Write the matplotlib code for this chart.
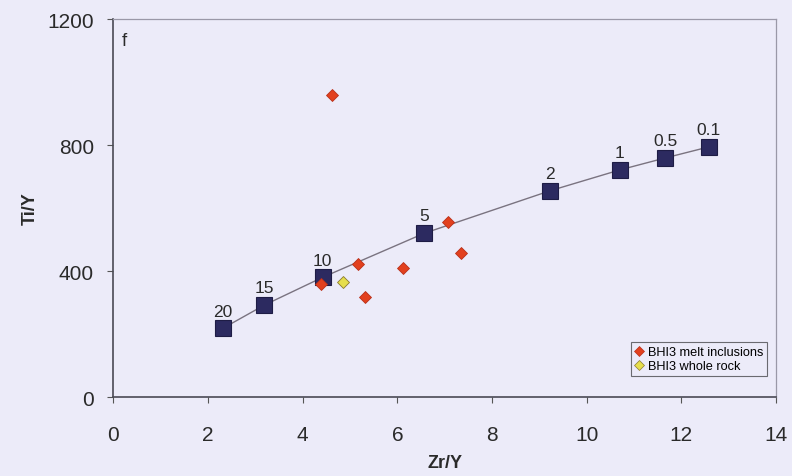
import matplotlib
matplotlib.use("Agg")
import matplotlib.pyplot as plt
from matplotlib.lines import Line2D

plt.rcParams['font.family'] = ['Liberation Sans', 'DejaVu Sans']

# Model melting curve (Zr/Y vs Ti/Y) with degree-of-melting labels
model_zr_y = [2.31, 3.19, 4.42, 6.57, 9.23, 10.70, 11.66, 12.58]
model_ti_y = [218, 292, 380, 520, 655, 721, 759, 794]
model_labels = ["20", "15", "10", "5", "2", "1", "0.5", "0.1"]

# BHI3 melt inclusions
mi_zr_y = [4.62, 5.16, 4.39, 5.32, 6.11, 7.07, 7.35]
mi_ti_y = [959, 422, 359, 316, 408, 557, 456]

# BHI3 whole rock
wr_zr_y = [4.86]
wr_ti_y = [366]

bg = '#ecebf9'
fig = plt.figure(figsize=(7.92, 4.77), dpi=100, facecolor=bg)
ax = fig.add_axes([0.1433, 0.1656, 0.8365, 0.7924], facecolor=bg)

ax.plot(model_zr_y, model_ti_y, color='#7a7380', lw=1.0, zorder=2)
ax.plot(model_zr_y, model_ti_y, ls='none', marker='s', ms=11.5,
        mfc='#2c2a60', mec='#1e1c45', mew=0.8, zorder=3)
for x, y, t in zip(model_zr_y, model_ti_y, model_labels):
    ax.annotate(t, (x, y), xytext=(0, 7), textcoords='offset points',
                ha='center', va='bottom', fontsize=12.5, color='#2a2a2a')

ax.plot(mi_zr_y, mi_ti_y, ls='none', marker='D', ms=6.6,
        mfc='#e2401e', mec='#b8301a', mew=0.6, zorder=4)
ax.plot(wr_zr_y, wr_ti_y, ls='none', marker='D', ms=6.6,
        mfc='#e6de4c', mec='#8a7a30', mew=0.6, zorder=4)

ax.set_xlim(0, 14)
ax.set_ylim(0, 1200)
ax.set_xticks([0, 2, 4, 6, 8, 10, 12, 14])
ax.set_yticks([0, 400, 800, 1200])
ax.tick_params(axis='both', labelsize=15, colors='#555555', labelcolor='#2a2a2a',
               length=4, width=0.8, direction='out')
ax.tick_params(axis='x', pad=16)
ax.tick_params(axis='y', pad=10)

for side in ('left', 'bottom'):
    ax.spines[side].set_color('#4a4a55')
    ax.spines[side].set_linewidth(1.2)
for side in ('top', 'right'):
    ax.spines[side].set_color('#9a98a8')
    ax.spines[side].set_linewidth(0.9)

ax.set_xlabel('Zr/Y', fontsize=13, fontweight='bold', color='#2a2a2a', labelpad=7)
ax.set_ylabel('Ti/Y', fontsize=13, fontweight='bold', color='#2a2a2a', labelpad=6)

ax.text(0.012, 0.965, 'f', transform=ax.transAxes, fontsize=13.5, color='#2a2a2a',
        ha='left', va='top')

handles = [
    Line2D([], [], ls='none', marker='D', ms=5, mfc='#e2401e', mec='#b8301a',
           mew=0.5, label='BHI3 melt inclusions'),
    Line2D([], [], ls='none', marker='D', ms=5, mfc='#e6de4c', mec='#8a7a30',
           mew=0.5, label='BHI3 whole rock'),
]
leg = ax.legend(handles=handles, loc='lower right', bbox_to_anchor=(0.986, 0.056),
                borderaxespad=0, fontsize=9.2, frameon=True, fancybox=False,
                framealpha=1, handlelength=0.6, handletextpad=0.4, borderpad=0.3,
                labelspacing=0.15)
leg.get_frame().set_facecolor(bg)
leg.get_frame().set_edgecolor('#6a6a70')
leg.get_frame().set_linewidth(0.8)

fig.savefig('out.png', dpi=100, facecolor=bg)
